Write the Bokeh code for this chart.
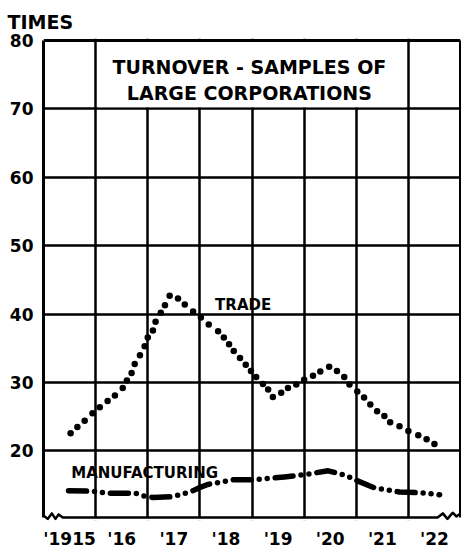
from bokeh.plotting import figure
from bokeh.models import Range1d, FixedTicker, LinearAxis
from bokeh.models import Label
from bokeh.embed import file_html
from bokeh.resources import INLINE

# ---- data ----
trade_year = [1915.52, 1915.65, 1915.79, 1915.94, 1916.08, 1916.23, 1916.37, 1916.52,
              1916.60, 1916.69, 1916.75, 1916.85, 1916.94, 1917.00, 1917.10, 1917.15,
              1917.25, 1917.33, 1917.42, 1917.58, 1917.71, 1917.87, 1918.02, 1918.17,
              1918.35, 1918.46, 1918.56, 1918.65, 1918.77, 1918.88, 1918.98, 1919.08,
              1919.21, 1919.31, 1919.40, 1919.56, 1919.69, 1919.85, 1920.00, 1920.17,
              1920.31, 1920.48, 1920.63, 1920.77, 1920.87, 1921.02, 1921.15, 1921.27,
              1921.40, 1921.54, 1921.65, 1921.83, 1922.00, 1922.19, 1922.35, 1922.50]
trade_times = [22.6, 23.5, 24.4, 25.5, 26.4, 27.3, 28.1, 29.2,
               30.3, 31.4, 32.7, 34.0, 35.3, 36.6, 37.6, 38.9,
               40.2, 41.3, 42.7, 42.3, 41.4, 40.4, 39.5, 38.5,
               37.5, 36.6, 35.6, 34.6, 33.6, 32.6, 31.7, 30.8,
               29.8, 29.0, 27.9, 28.5, 29.2, 29.7, 30.4, 31.0,
               31.6, 32.3, 31.7, 30.8, 29.7, 28.7, 27.8, 26.8,
               25.8, 25.1, 24.2, 23.6, 22.9, 22.3, 21.7, 21.0]

manuf_year = [1915.48, 1915.96, 1916.25, 1916.77, 1916.87, 1917.10, 1917.44, 1917.63,
              1917.87, 1917.98, 1918.15, 1918.65, 1919.02, 1919.62, 1919.98, 1920.46,
              1920.81, 1921.00, 1921.35, 1921.83, 1922.21, 1922.60]
manuf_times = [14.2, 14.1, 13.8, 13.8, 13.5, 13.2, 13.3, 13.6,
               14.2, 14.6, 15.1, 15.8, 15.8, 16.2, 16.5, 17.1,
               16.4, 15.7, 14.6, 14.0, 13.9, 13.6]

year_first, year_last = 1915, 1923
year_bounds = [1916, 1917, 1918, 1919, 1920, 1921, 1922]
year_label_pos = [1915.5, 1916.5, 1917.5, 1918.5, 1919.5, 1920.5, 1921.5, 1922.5]
year_labels = ["'1915", "'16", "'17", "'18", "'19", "'20", "'21", "'22"]
y_ticks = [20, 30, 40, 50, 60, 70, 80]
y_bottom = 10.27   # where the broken bottom edge of the grid sits

# break-mark zigzags on the bottom edge (offsets from the bottom edge)
zig_left_x = [1915.0, 1915.08, 1915.16, 1915.23, 1915.29, 1915.37]
zig_left_d = [0.3, -0.2, 0.6, -0.2, 0.45, 0.0]
zig_right_x = [1922.56, 1922.66, 1922.75, 1922.85, 1922.92, 1923.0]
zig_right_d = [0.0, 0.6, -0.2, 0.7, 0.15, 0.6]

FONT = "DejaVu Sans"

p = figure(width=461, height=551, output_backend="svg", toolbar_location=None,
           x_range=Range1d(year_first, year_last),
           y_range=Range1d(y_bottom - 0.436, y_ticks[-1] + 0.29),
           min_border_left=43, min_border_right=1, min_border_top=38, min_border_bottom=28)
p.background_fill_color = "white"
p.border_fill_color = "white"
p.outline_line_color = None

# title "TIMES"
p.title.text = "TIMES"
p.title.text_font = FONT
p.title.text_font_style = "bold"
p.title.text_font_size = "19px"
p.title.text_color = "black"
p.title.align = "left"
p.title.offset = -36
p.title.standoff = 12

# axes
p.xaxis.ticker = FixedTicker(ticks=year_label_pos)
p.xaxis.major_label_overrides = {t: l for t, l in zip(year_label_pos, year_labels)}
p.yaxis.ticker = FixedTicker(ticks=y_ticks)
for ax in (p.xaxis, p.yaxis):
    ax.major_tick_line_color = None
    ax.minor_tick_line_color = None
    ax.major_tick_out = 0
    ax.major_tick_in = 0
    ax.minor_tick_out = 0
    ax.minor_tick_in = 0
    ax.major_label_text_font = FONT
    ax.major_label_text_font_style = "bold"
    ax.major_label_text_color = "black"
p.xaxis.axis_line_color = None
p.xaxis.major_label_text_font_size = "17px"
p.xaxis.major_label_standoff = 8
p.yaxis.major_label_text_font_size = "17px"
p.yaxis.major_label_standoff = 10
p.yaxis.axis_line_color = "black"
p.yaxis.axis_line_width = 3
p.yaxis.bounds = (y_bottom, y_ticks[-1])

right = LinearAxis(ticker=FixedTicker(ticks=[]), bounds=(y_bottom, y_ticks[-1]),
                   axis_line_color="black", axis_line_width=3,
                   major_tick_line_color=None, minor_tick_line_color=None,
                   major_tick_out=0, major_tick_in=0, minor_tick_out=0, minor_tick_in=0,
                   major_label_text_font_size="0px", major_label_standoff=0)
p.add_layout(right, "right")

# grid
p.xgrid.ticker = FixedTicker(ticks=year_bounds)
p.ygrid.ticker = FixedTicker(ticks=y_ticks[:-1])
for g in (p.xgrid, p.ygrid):
    g.grid_line_color = "black"
    g.grid_line_width = 2.5
    g.grid_line_alpha = 1.0

# white strip below the bottom edge (hides grid ends)
p.quad(left=[year_first], right=[year_last], bottom=[y_bottom - 1], top=[y_bottom],
       fill_color="white", line_color=None)
# title box (blank band above 70 between the 1916 and 1922 lines)
p.quad(left=[year_bounds[0] + 0.035], right=[year_bounds[-1] - 0.035],
       bottom=[y_ticks[-2] + 0.25], top=[y_ticks[-1]],
       fill_color="white", line_color=None)

# frame: top edge and broken bottom edge
p.line([year_first, year_last], [y_ticks[-1], y_ticks[-1]], line_color="black", line_width=3)
bx = zig_left_x + zig_right_x
by = [y_bottom + d for d in zig_left_d + zig_right_d]
p.line(bx, by, line_color="black", line_width=2.5, line_join="round")

# series
p.line(manuf_year, manuf_times, line_color="black", line_width=5.5,
       line_dash="18 8 0 8 0 8", line_cap="round", line_join="round")
p.scatter(trade_year, trade_times, size=6.5, marker="circle",
          fill_color="black", line_color=None)

# texts
def lab(x, y, t, size):
    p.add_layout(Label(x=x, y=y, text=t, text_font=FONT, text_font_style="bold",
                       text_font_size=size, text_align="center", text_baseline="alphabetic",
                       text_color="black"))

lab(1918.95, 76.08, "TURNOVER - SAMPLES OF", "19px")
lab(1918.95, 72.3, "LARGE CORPORATIONS", "19px")
lab(1918.83, 41.35, "TRADE", "15px")
lab(1916.94, 16.8, "MANUFACTURING", "15px")

open("out.html", "w").write(file_html(p, INLINE))
